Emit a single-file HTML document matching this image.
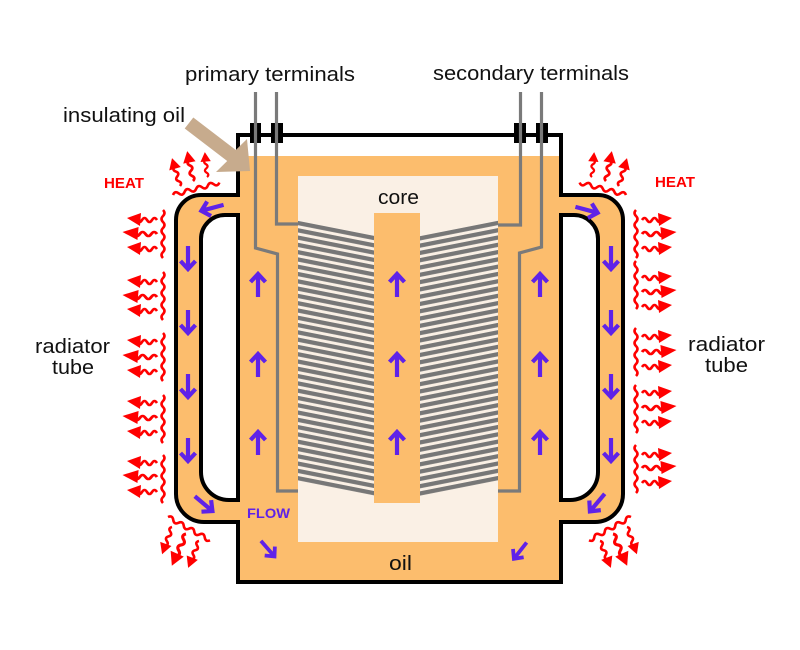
<!DOCTYPE html>
<html><head><meta charset="utf-8"><style>
html,body{margin:0;padding:0;background:#fff;}
svg{display:block;}
text{font-family:"Liberation Sans",sans-serif;}
</style></head><body>
<svg width="800" height="650" viewBox="0 0 800 650" xmlns="http://www.w3.org/2000/svg">
<defs>
  <pattern id="pl" patternUnits="userSpaceOnUse" x="0" y="1.77" width="20" height="7.29" patternTransform="skewY(11.15)"><rect x="0" y="0" width="20" height="4.3" fill="#777"/></pattern>
  <pattern id="pr" patternUnits="userSpaceOnUse" x="0" y="5.48" width="20" height="7.29" patternTransform="skewY(-11.15)"><rect x="0" y="0" width="20" height="4.3" fill="#777"/></pattern>
  <path id="pa" d="M0,12 V-10 M-7.5,-3 L0,-11 L7.5,-3" fill="none" stroke="#5f22e8" stroke-width="4.2"/>
  <g id="ha"><path d="M0,0 q-2.5,-4 -5,0 q-2.5,4 -5,0 q-2.5,-4 -5,0 q-2.5,4 -5,0" fill="none" stroke="#f00" stroke-width="2.6"/><path d="M-16,-7 L-30,-2 L-17,6 Z" fill="#f00"/></g>
  <path id="vw" d="M0,0 q3,3 0,6 q-3,3 0,6 q3,3 0,6 q-3,3 0,6 q3,3 0,6 q-3,3 0,6 q3,3 0,6 q-3,3 0,6" fill="none" stroke="#f00" stroke-width="2.6"/>
  <g id="ua"><path d="M0,0 q3.5,-2.5 0,-5 q-3.5,-2.5 0,-5 q3.5,-2.5 0,-5 q-3.5,-2.5 0,-5" fill="none" stroke="#f00" stroke-width="2.6"/><path d="M-6,-18 L0,-29 L6,-18 Z" fill="#f00"/></g>
  <path id="lw" d="M0,0 q3,-4 6,0 q3,4 6,0 q3,-4 6,0 q3,4 6,0 q3,-4 6,0 q3,4 6,0 q3,-4 6,0 q3,4 6,0" fill="none" stroke="#f00" stroke-width="2.6"/>
  <g id="halfpipe">
    <path d="M238,195 H201 A25,25 0 0 0 176,220 V494 A28,28 0 0 0 204,522 H238 Z" fill="#fcbd6d"/>
    <path d="M238,215 H225 A24,24 0 0 0 201,239 V472 A28,28 0 0 0 229,500 H238 Z" fill="#fff"/>
  </g>
  <g id="halfstroke" fill="none" stroke="#000" stroke-width="4">
    <path d="M399.5,135 H238 V195 H201 A25,25 0 0 0 176,220 V494 A28,28 0 0 0 204,522 H238 V582 H399.5"/>
    <path d="M238,215 H225 A24,24 0 0 0 201,239 V472 A28,28 0 0 0 229,500 H238 Z"/>
  </g>
  <g id="cluster">
    <use href="#lw" transform="translate(173,195) rotate(-15)"/>
    <use href="#ua" transform="translate(180,186) rotate(-16)"/>
    <use href="#ua" transform="translate(193,181) rotate(-11) scale(1.05)"/>
    <use href="#ua" transform="translate(207,177) rotate(-5) scale(0.86)"/>
    <use href="#lw" transform="translate(168,517) rotate(29)"/>
    <use href="#ua" transform="translate(172,527) rotate(-160)"/>
    <use href="#ua" transform="translate(186,534) rotate(-156) scale(1.2)"/>
    <use href="#ua" transform="translate(199,541) rotate(-158)"/>
  </g>
</defs>

<rect width="800" height="650" fill="#fff"/>

<rect x="238" y="156" width="323" height="426" fill="#fcbd6d"/>
<use href="#halfpipe"/>
<use href="#halfpipe" transform="translate(799,0) scale(-1,1)"/>

<rect x="298" y="176" width="200" height="366" fill="#faf0e5"/>
<rect x="374" y="213" width="46" height="290" fill="#fcbd6d"/>
<text x="378" y="204" font-size="20" textLength="41" lengthAdjust="spacingAndGlyphs" fill="#111">core</text>

<polygon points="298,219.6 374,234.6 374,496.7 298,481.7" fill="url(#pl)"/>
<polygon points="420,235 498,219.6 498,481.7 420,497.1" fill="url(#pr)"/>

<use href="#halfstroke"/>
<use href="#halfstroke" transform="translate(799,0) scale(-1,1)"/>

<rect x="250" y="123" width="11" height="20" fill="#000"/>
<rect x="271" y="123" width="12" height="20" fill="#000"/>
<rect x="514" y="123" width="12" height="20" fill="#000"/>
<rect x="536" y="123" width="12" height="20" fill="#000"/>

<g fill="none" stroke="#7a7a7a" stroke-width="3.2">
  <path d="M255.5,92 V248 L277.5,254 V491 H298"/>
  <path d="M276.5,92 V224 H298"/>
  <path d="M541.5,92 V247 L519.5,253 V491 H498"/>
  <path d="M520.5,92 V225 H498"/>
</g>

<polygon points="193.3,117.5 235.8,150 247,139 250,171 216,172 227.2,161 184.7,128.5" fill="#c7ab8d"/>

<use href="#pa" transform="translate(258,285)"/>
<use href="#pa" transform="translate(258,365)"/>
<use href="#pa" transform="translate(258,443)"/>
<use href="#pa" transform="translate(397,285)"/>
<use href="#pa" transform="translate(397,365)"/>
<use href="#pa" transform="translate(397,443)"/>
<use href="#pa" transform="translate(540,285)"/>
<use href="#pa" transform="translate(540,365)"/>
<use href="#pa" transform="translate(540,443)"/>
<use href="#pa" transform="translate(188,258) rotate(180)"/>
<use href="#pa" transform="translate(188,322) rotate(180)"/>
<use href="#pa" transform="translate(188,386) rotate(180)"/>
<use href="#pa" transform="translate(188,450) rotate(180)"/>
<use href="#pa" transform="translate(611,258) rotate(180)"/>
<use href="#pa" transform="translate(611,322) rotate(180)"/>
<use href="#pa" transform="translate(611,386) rotate(180)"/>
<use href="#pa" transform="translate(611,450) rotate(180)"/>
<use href="#pa" transform="translate(212,208) rotate(-105)"/>
<use href="#pa" transform="translate(587,210) rotate(105)"/>
<use href="#pa" transform="translate(204,504) rotate(130)"/>
<use href="#pa" transform="translate(268,549) rotate(139) scale(0.9)"/>
<use href="#pa" transform="translate(597,503) rotate(-140)"/>
<use href="#pa" transform="translate(520,551) rotate(-142) scale(0.9)"/>

<use href="#cluster"/>
<g>
  <use href="#vw" transform="translate(163,210)"/>
  <use href="#ha" transform="translate(157,220)"/>
  <use href="#ha" transform="translate(157,234) scale(1.15,1)"/>
  <use href="#ha" transform="translate(157,249)"/>
  <use href="#vw" transform="translate(163,272)"/>
  <use href="#ha" transform="translate(157,282)"/>
  <use href="#ha" transform="translate(157,297) scale(1.15,1)"/>
  <use href="#ha" transform="translate(157,311)"/>
  <use href="#vw" transform="translate(163,333)"/>
  <use href="#ha" transform="translate(157,342)"/>
  <use href="#ha" transform="translate(157,357) scale(1.15,1)"/>
  <use href="#ha" transform="translate(157,372)"/>
  <use href="#vw" transform="translate(163,395)"/>
  <use href="#ha" transform="translate(157,403)"/>
  <use href="#ha" transform="translate(157,418) scale(1.15,1)"/>
  <use href="#ha" transform="translate(157,433)"/>
  <use href="#vw" transform="translate(163,455)"/>
  <use href="#ha" transform="translate(157,463)"/>
  <use href="#ha" transform="translate(157,477) scale(1.15,1)"/>
  <use href="#ha" transform="translate(157,492)"/>
</g>
<g transform="translate(799,0) scale(-1,1)">
  <use href="#cluster"/>
  <use href="#vw" transform="translate(163,210)"/>
  <use href="#ha" transform="translate(157,220)"/>
  <use href="#ha" transform="translate(157,234) scale(1.15,1)"/>
  <use href="#ha" transform="translate(157,249)"/>
  <use href="#vw" transform="translate(163,261)"/>
  <use href="#ha" transform="translate(157,278)"/>
  <use href="#ha" transform="translate(157,292) scale(1.15,1)"/>
  <use href="#ha" transform="translate(157,307)"/>
  <use href="#vw" transform="translate(163,328)"/>
  <use href="#ha" transform="translate(157,337)"/>
  <use href="#ha" transform="translate(157,352) scale(1.15,1)"/>
  <use href="#ha" transform="translate(157,367)"/>
  <use href="#vw" transform="translate(163,385)"/>
  <use href="#ha" transform="translate(157,393)"/>
  <use href="#ha" transform="translate(157,408) scale(1.15,1)"/>
  <use href="#ha" transform="translate(157,423)"/>
  <use href="#vw" transform="translate(163,445)"/>
  <use href="#ha" transform="translate(157,455)"/>
  <use href="#ha" transform="translate(157,468) scale(1.15,1)"/>
  <use href="#ha" transform="translate(157,483)"/>
</g>

<g fill="#111" font-size="20">
  <text x="185" y="81" textLength="170" lengthAdjust="spacingAndGlyphs">primary terminals</text>
  <text x="433" y="80" textLength="196" lengthAdjust="spacingAndGlyphs">secondary terminals</text>
  <text x="63" y="122" textLength="122" lengthAdjust="spacingAndGlyphs">insulating oil</text>
  <text x="35" y="353" textLength="75" lengthAdjust="spacingAndGlyphs">radiator</text>
  <text x="52" y="374" textLength="42" lengthAdjust="spacingAndGlyphs">tube</text>
  <text x="688" y="351" textLength="77" lengthAdjust="spacingAndGlyphs">radiator</text>
  <text x="705" y="372" textLength="43" lengthAdjust="spacingAndGlyphs">tube</text>
  <text x="389" y="570" textLength="23" lengthAdjust="spacingAndGlyphs">oil</text>
</g>
<g fill="#f00" font-size="15" font-weight="bold">
  <text x="104" y="188" textLength="40" lengthAdjust="spacingAndGlyphs">HEAT</text>
  <text x="655" y="187" textLength="40" lengthAdjust="spacingAndGlyphs">HEAT</text>
</g>
<text x="247" y="518" font-size="14" font-weight="bold" fill="#5f22e8" textLength="43" lengthAdjust="spacingAndGlyphs">FLOW</text>
</svg>
</body></html>
